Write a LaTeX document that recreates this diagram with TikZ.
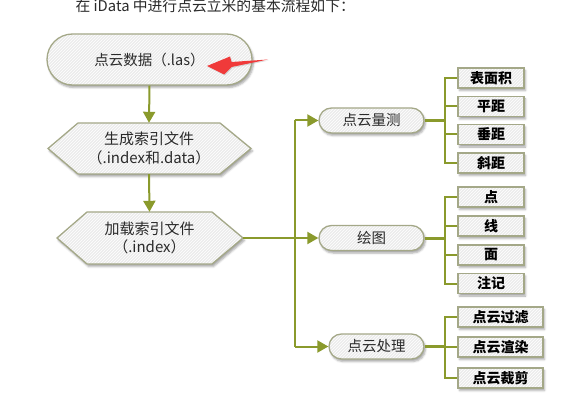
\documentclass[tikz,border=0pt]{standalone}
\usepackage{fontspec}
\newfontfamily\cjk{Noto Sans CJK SC}
\usetikzlibrary{arrows.meta,shapes.misc,shadows.blur,patterns,calc}
\definecolor{olivel}{HTML}{8A9A2C}
\definecolor{boxfill}{HTML}{ECECEC}
\definecolor{boxline}{HTML}{A4A888}
\definecolor{txt}{HTML}{2A2A2A}
\definecolor{redarr}{HTML}{F03A3A}
\tikzset{
  conn/.style={draw=olivel, line width=2pt},
  stub/.style={draw=olivel, line width=3pt},
  arr/.style={conn, -{Triangle[width=12pt,length=11pt]}},
  shadebox/.style={blur shadow={shadow xshift=1.5pt,shadow yshift=-2.5pt,shadow opacity=35,shadow blur radius=2pt},
    preaction={fill=boxfill}, pattern=north east lines, pattern color=white, draw=boxline, line width=1.3pt},
  pill/.style={rounded rectangle, shadebox, minimum height=25pt, inner sep=0pt,
    font=\cjk\fontsize{14.5}{16}\selectfont, text=txt},
  leaf/.style={rectangle, shadebox, minimum height=20pt, inner sep=0pt,
    font=\cjk\bfseries\fontsize{14}{16}\selectfont, text=black},
  hexlabel/.style={rectangle, inner sep=0pt, align=center,
    font=\cjk\fontsize{15}{18.5}\selectfont, text=txt},
}
\begin{document}
\begin{tikzpicture}[x=1pt,y=-1pt]
\useasboundingbox (0,0) rectangle (564,403);
\node[anchor=base west, font=\cjk\fontsize{14.8}{16}\selectfont, text=txt] (title) at (72,11.5) {在 iData 中进行点云立米的基本流程如下：};

% hexagon outlines (drawn first, text nodes placed on top)
\path[shadebox] (78,123) -- (220,123) -- (251,148.5) -- (220,174) -- (78,174) -- (48,148.5) -- cycle;
\path[shadebox] (87,212) -- (212,212) -- (243,238) -- (212,264) -- (87,264) -- (57,238) -- cycle;

% main column
\node[pill, minimum width=205pt, minimum height=51pt] (top) at (149.5,59.5) {点云数据（.las）};
\node[hexlabel, minimum width=142pt, minimum height=51pt] (h1) at (149,148.5) {生成索引文件\\（.index和.data）};
\node[hexlabel, minimum width=125pt, minimum height=52pt] (h2) at (149.5,238) {加载索引文件\\（.index）};
\coordinate (h2r) at (243,238);

\draw[arr] (top.south) -- (h1.north);
\draw[arr] (h1.south) -- (h2.north);

% red marker arrow
\fill[redarr, drop shadow={shadow xshift=1pt,shadow yshift=-1pt,opacity=0.25}]
  (207,66) -- (230,56.5) -- (231.5,62) -- (268,59.5) -- (231.5,67) -- (224,74.5) -- cycle;

% second level
\node[pill, minimum width=105pt] (m) at (371.5,120.5) {点云量测};
\node[pill, minimum width=105pt] (d) at (371.5,238) {绘图};
\node[pill, minimum width=95pt] (p) at (376.5,346.5) {点云处理};

\coordinate (t) at (294.5,238);
\draw[conn] (h2r) -- (t);
\draw[conn] (t |- m.west) -- (t |- p.west);
\draw[arr] (t |- m.west) -- (m.west);
\draw[arr] (t) -- (d.west);
\draw[arr] (t |- p.west) -- (p.west);

% leaves
\node[leaf, minimum width=66pt] (m1) at (491,78) {表面积};
\node[leaf, minimum width=66pt] (m2) at (491,106.5) {平距};
\node[leaf, minimum width=66pt] (m3) at (491,134.5) {垂距};
\node[leaf, minimum width=66pt] (m4) at (491,163) {斜距};
\node[leaf, minimum width=66pt] (d1) at (491,197) {点};
\node[leaf, minimum width=66pt] (d2) at (491,226) {线};
\node[leaf, minimum width=66pt] (d3) at (491,255) {面};
\node[leaf, minimum width=66pt] (d4) at (491,283.5) {注记};
\node[leaf, minimum width=85pt] (p1) at (500.5,317) {点云过滤};
\node[leaf, minimum width=85pt] (p2) at (500.5,347) {点云渲染};
\node[leaf, minimum width=85pt] (p3) at (500.5,378) {点云裁剪};

\coordinate (bm) at (445,120.5);
\coordinate (bd) at (445,238);
\coordinate (bp) at (445,346.5);

\draw[stub] (m.east) -- (bm);
\draw[stub] (d.east) -- (bd);
\draw[stub] (p.east) -- (bp);

\draw[conn] (m1.west) -| (bm |- m4.west) -- (m4.west);
\draw[conn] (m2.west) -- (bm |- m2.west);
\draw[conn] (m3.west) -- (bm |- m3.west);

\draw[conn] (d1.west) -| (bd |- d4.west) -- (d4.west);
\draw[conn] (d2.west) -- (bd |- d2.west);
\draw[conn] (d3.west) -- (bd |- d3.west);

\draw[conn] (p1.west) -| (bp |- p3.west) -- (p3.west);
\draw[conn] (p2.west) -- (bp |- p2.west);
\end{tikzpicture}
\end{document}
